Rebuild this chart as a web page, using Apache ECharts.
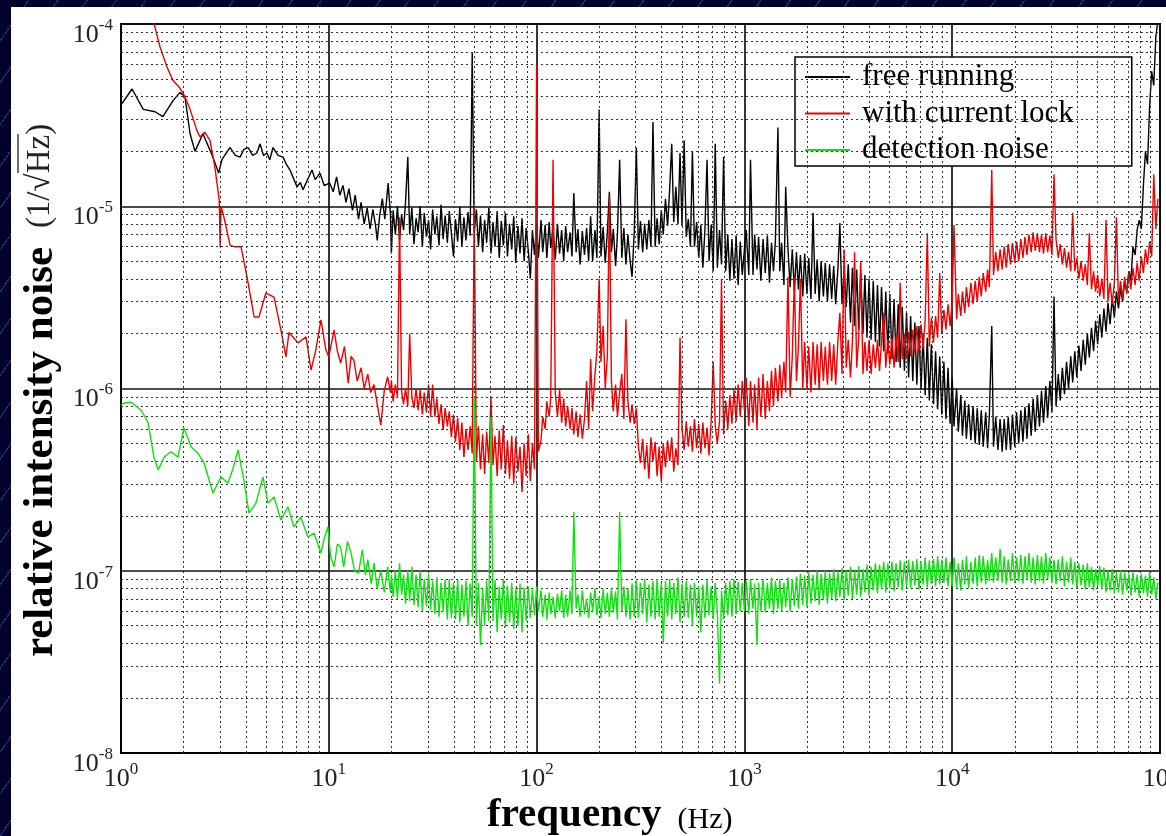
<!DOCTYPE html>
<html>
<head>
<meta charset="utf-8">
<title>Relative intensity noise</title>
<script src="https://cdn.jsdelivr.net/npm/echarts@6/dist/echarts.min.js"></script>
<style>
  html, body { margin: 0; padding: 0; width: 1166px; height: 836px; overflow: hidden; }
  body {
    background-color: #00002c;
    background-image: repeating-linear-gradient(125deg, transparent 0px, transparent 23px, rgba(70, 90, 200, 0.55) 23px, rgba(70, 90, 200, 0.55) 24px);
  }
  #panel { position: absolute; left: 11px; top: 7px; width: 1155px; height: 829px; background: #fff; }
  #chart { position: absolute; left: 0; top: 0; width: 1166px; height: 836px; }
</style>
</head>
<body>
<div id="panel"></div>
<div id="chart"></div>
<script>
// Low-frequency part of each spectrum: [frequency (Hz), RIN (1/sqrt(Hz))]
const lowFreeRunning = [
  [1.0,3.6e-5],[1.13,4.4e-5],[1.28,3.4e-5],[1.46,3.3e-5],[1.59,3.1e-5],[1.78,3.8e-5],[1.92,4.2e-5],[2.03,4.0e-5],
  [2.15,2.5e-5],[2.27,2.0e-5],[2.48,2.5e-5],[2.77,1.86e-5],[2.95,1.52e-5],[3.06,1.8e-5],[3.2,1.95e-5],[3.35,2.1e-5],
  [3.55,1.9e-5],[3.74,1.86e-5],[3.9,2.05e-5],[4.09,2.1e-5],[4.3,1.9e-5],[4.51,1.96e-5],[4.67,2.2e-5],[4.85,1.9e-5],
  [5.04,1.96e-5],[5.2,1.8e-5],[5.39,2.1e-5],[5.7,1.9e-5],[6.02,1.86e-5],[6.25,1.7e-5],[6.51,1.58e-5],[6.8,1.4e-5],
  [7.03,1.28e-5],[7.3,1.35e-5],[7.51,1.23e-5],[7.9,1.4e-5],[8.3,1.58e-5],[8.6,1.4e-5],[9.07,1.52e-5],[9.5,1.3e-5],
  [10.1,1.34e-5],[10.5,1.2e-5],[10.9,1.45e-5],[11.3,1.15e-5],[11.7,1.3e-5],[12.1,1.05e-5],[12.5,1.25e-5],[13.0,9.5e-6],
  [13.4,1.15e-5],[13.9,8.5e-6],[14.3,1.05e-5],[14.8,8e-6],[15.3,9.8e-6],[15.8,7.5e-6],[16.3,9.6e-6],[16.8,7.8e-6],
  [17.1,6.5e-6],[17.6,9e-6],[18.1,1.1e-5],[18.6,8.5e-6],[19.3,1.34e-5],[19.8,9e-6]
];
const lowCurrentLock = [
  [1.40,1.15e-4],[1.54,7.5e-5],[1.665,5.8e-5],[1.78,4.9e-5],[1.92,4.45e-5],[2.03,4.0e-5],[2.15,3.4e-5],[2.32,2.6e-5],
  [2.40,2.4e-5],[2.53,2.55e-5],[2.68,2.3e-5],[2.83,1.64e-5],[2.97,1.08e-5],[3.0,6.0e-6],[3.03,1.0e-5],[3.13,8.7e-6],
  [3.35,6.1e-6],[3.5,6.0e-6],[3.78,6.0e-6],[4.04,4.1e-6],[4.37,2.47e-6],[4.61,2.47e-6],[4.98,3.34e-6],[5.45,3.17e-6],
  [5.88,2.1e-6],[6.22,1.49e-6],[6.43,2.03e-6],[7.11,1.78e-6],[7.77,1.92e-6],[8.21,1.26e-6],[8.66,1.63e-6],[9.17,2.38e-6],
  [9.68,1.63e-6],[10.0,1.49e-6],[10.6,2.1e-6],[11.0,1.6e-6],[11.4,1.38e-6],[11.9,1.7e-6],[12.4,1.07e-6],[12.8,1.5e-6],
  [13.2,1.43e-6],[13.7,1.1e-6],[14.3,1.3e-6],[14.8,1.0e-6],[15.4,1.2e-6],[15.9,9.5e-7],[16.5,1.05e-6],[17.1,8.2e-7],
  [17.8,6.3e-7],[18.5,9.8e-7],[19.2,1.16e-6],[19.8,9.5e-7]
];
const lowDetectionNoise = [
  [1.0,8.1e-7],[1.03,8.3e-7],[1.12,8.4e-7],[1.25,7.6e-7],[1.35,6.5e-7],[1.44,4.2e-7],[1.51,3.57e-7],[1.61,4.2e-7],
  [1.74,4.5e-7],[1.88,4.2e-7],[2.01,6.1e-7],[2.17,4.8e-7],[2.35,4.4e-7],[2.51,3.9e-7],[2.77,2.67e-7],[3.03,3.27e-7],
  [3.27,3.03e-7],[3.45,3.6e-7],[3.66,4.6e-7],[3.9,3.15e-7],[4.13,2.07e-7],[4.46,2.35e-7],[4.82,3.27e-7],[5.1,2.35e-7],
  [5.45,2.54e-7],[5.88,1.9e-7],[6.36,2.24e-7],[6.79,1.74e-7],[7.33,1.97e-7],[7.93,1.53e-7],[8.49,1.61e-7],[9.17,1.25e-7],
  [9.5,1.5e-7],[9.9,1.74e-7],[10.2,1.2e-7],[10.6,1.05e-7],[11.0,1.4e-7],[11.4,1.35e-7],[11.8,1.05e-7],[12.3,1.45e-7],
  [12.8,1.25e-7],[13.3,1.0e-7],[13.9,9.7e-8],[14.5,1.3e-7],[15.0,9.5e-8],[15.4,1.15e-7],[16.0,8.5e-8],[16.5,1.1e-7],
  [17.1,8.0e-8],[17.8,1.0e-7],[18.5,7.6e-8],[19.2,1.05e-7],[19.8,7.6e-8]
];

// Frequency bins (Hz) of the dense part of the spectra, 20 Hz .. 97.7 kHz
const bandFreq = [
  20.0,20.4,20.9,21.4,21.9,22.4,22.9,23.4,24.0,24.5,25.1,25.7,26.3,26.9,27.5,28.2,28.8,29.5,30.2,30.9,
  31.6,32.4,33.1,33.9,34.7,35.5,36.3,37.2,38.0,38.9,39.8,40.7,41.7,42.7,43.7,44.7,45.7,46.8,47.9,49.0,
  50.1,51.3,52.5,53.7,55.0,56.2,57.5,58.9,60.3,61.7,63.1,64.6,66.1,67.6,69.2,70.8,72.4,74.1,75.9,77.6,
  79.4,81.3,83.2,85.1,87.1,89.1,91.2,93.3,95.5,97.7,
  100,102,105,107,110,112,115,117,120,123,126,129,132,135,138,141,145,148,151,155,
  158,162,166,170,174,178,182,186,191,195,200,204,209,214,219,224,229,234,240,245,
  251,257,263,269,275,282,288,295,302,309,316,324,331,339,347,355,363,372,380,389,
  398,407,417,427,437,447,457,468,479,490,501,513,525,537,550,562,575,589,603,617,
  631,646,661,676,692,708,724,741,759,776,794,813,832,851,871,891,912,933,955,977,
  1000,1020,1050,1070,1100,1120,1150,1170,1200,1230,1260,1290,1320,1350,1380,1410,1450,1480,1510,1550,
  1580,1620,1660,1700,1740,1780,1820,1860,1910,1950,2000,2040,2090,2140,2190,2240,2290,2340,2400,2450,
  2510,2570,2630,2690,2750,2820,2880,2950,3020,3090,3160,3240,3310,3390,3470,3550,3630,3720,3800,3890,
  3980,4070,4170,4270,4370,4470,4570,4680,4790,4900,5010,5130,5250,5370,5500,5620,5750,5890,6030,6170,
  6310,6460,6610,6760,6920,7080,7240,7410,7590,7760,7940,8130,8320,8510,8710,8910,9120,9330,9550,9770,
  10000,10200,10500,10700,11000,11200,11500,11700,12000,12300,12600,12900,13200,13500,13800,14100,14500,14800,15100,15500,
  15800,16200,16600,17000,17400,17800,18200,18600,19100,19500,20000,20400,20900,21400,21900,22400,22900,23400,24000,24500,
  25100,25700,26300,26900,27500,28200,28800,29500,30200,30900,31600,32400,33100,33900,34700,35500,36300,37200,38000,38900,
  39800,40700,41700,42700,43700,44700,45700,46800,47900,49000,50100,51300,52500,53700,55000,56200,57500,58900,60300,61700,
  63100,64600,66100,67600,69200,70800,72400,74100,75900,77600,79400,81300,83200,85100,87100,89100,91200,93300,95500,97700
];

// free running, RIN at each bandFreq bin
const bandFreeRunning = [
  5.5e-6,9.5e-6,7.0e-6,1.0e-5,6.5e-6,9.0e-6,7.4e-6,1.05e-5,1.86e-5,7.0e-6,
  9.8e-6,6.2e-6,8.6e-6,7.2e-6,1.0e-5,6.0e-6,9.2e-6,6.8e-6,8.4e-6,5.8e-6,
  9.6e-6,7.0e-6,8.8e-6,6.1e-6,1.02e-5,6.6e-6,8.9e-6,6.3e-6,9.4e-6,7.1e-6,
  5.3e-6,8.5e-6,6.4e-6,9.9e-6,6.0e-6,8.7e-6,6.5e-6,9.3e-6,6.9e-6,7.0e-5,
  7.2e-6,9.6e-6,6.0e-6,8.9e-6,5.6e-6,8.4e-6,6.3e-6,9.8e-6,5.5e-6,8.2e-6,
  6.0e-6,9.4e-6,5.2e-6,8.3e-6,6.1e-6,9.2e-6,5.3e-6,8.0e-6,5.8e-6,8.8e-6,
  4.9e-6,7.8e-6,5.5e-6,8.6e-6,5.0e-6,7.6e-6,5.7e-6,4.0e-6,7.4e-6,5.4e-6,
  8.0e-6,5.2e-6,8.4e-6,5.6e-6,7.9e-6,5.2e-6,8.2e-6,5.9e-6,7.6e-6,5.1e-6,
  8.0e-6,5.5e-6,7.4e-6,5.0e-6,7.8e-6,5.6e-6,7.2e-6,5.3e-6,1.18e-5,5.6e-6,
  7.5e-6,4.8e-6,7.3e-6,5.4e-6,7.6e-6,5.0e-6,8.8e-6,5.0e-6,7.4e-6,5.2e-6,
  3.4e-5,5.3e-6,7.7e-6,4.9e-6,7.2e-6,1.2e-5,5.6e-6,7.5e-6,4.7e-6,7.1e-6,
  1.8e-5,5.2e-6,7.6e-6,4.8e-6,7.0e-6,5.0e-6,4.1e-6,7.2e-6,2.1e-5,5.8e-6,
  8.3e-6,5.6e-6,8.0e-6,5.8e-6,8.4e-6,6.0e-6,2.9e-5,6.0e-6,8.6e-6,6.2e-6,
  9.5e-6,7.0e-6,1.1e-5,7.8e-6,1.25e-5,2.2e-5,8.2e-6,1.28e-5,8.0e-6,1.96e-5,
  7.8e-6,2.3e-5,6.8e-6,8.5e-6,6.0e-6,2.0e-5,6.0e-6,8.2e-6,5.2e-6,7.9e-6,
  4.6e-6,7.5e-6,1.8e-5,5.0e-6,7.9e-6,4.4e-6,2.2e-5,4.6e-6,7.4e-6,4.8e-6,
  1.86e-5,4.4e-6,7.0e-6,3.9e-6,6.6e-6,4.0e-6,6.9e-6,3.7e-6,6.4e-6,4.2e-6,
  5.8e-6,7.4e-6,4.2e-6,1.8e-5,4.2e-6,7.0e-6,4.5e-6,6.8e-6,3.9e-6,6.6e-6,
  4.3e-6,6.9e-6,3.8e-6,6.3e-6,4.4e-6,6.5e-6,2.7e-5,4.4e-6,6.3e-6,3.7e-6,
  1.28e-5,5.9e-6,3.6e-6,5.8e-6,3.4e-6,5.6e-6,3.5e-6,5.4e-6,3.2e-6,5.5e-6,
  3.3e-6,5.2e-6,3.1e-6,9.2e-6,3.3e-6,5.1e-6,3.0e-6,5.0e-6,3.2e-6,4.9e-6,
  3.0e-6,4.8e-6,3.1e-6,4.7e-6,2.9e-6,4.6e-6,8.1e-6,2.9e-6,4.6e-6,2.8e-6,
  4.8e-6,2.3e-6,4.6e-6,2.2e-6,4.5e-6,2.1e-6,4.3e-6,2.0e-6,4.2e-6,1.9e-6,
  4.0e-6,1.85e-6,3.9e-6,1.8e-6,3.7e-6,1.7e-6,3.6e-6,1.6e-6,3.4e-6,1.55e-6,
  3.3e-6,1.45e-6,3.1e-6,1.4e-6,2.9e-6,1.3e-6,2.8e-6,1.25e-6,2.6e-6,1.15e-6,
  2.5e-6,1.1e-6,2.3e-6,1.05e-6,2.2e-6,9.8e-7,2.0e-6,9.2e-7,1.9e-6,8.6e-7,
  1.75e-6,8.2e-7,1.6e-6,7.7e-7,1.5e-6,7.2e-7,1.4e-6,6.8e-7,1.3e-6,6.4e-7,
  1.15e-6,6.2e-7,1.0e-6,5.8e-7,9.2e-7,5.5e-7,8.6e-7,5.3e-7,8.2e-7,5.2e-7,
  8.0e-7,5.0e-7,7.8e-7,4.9e-7,7.6e-7,4.8e-7,7.4e-7,4.7e-7,7.2e-7,2.2e-6,
  4.8e-7,7.0e-7,4.6e-7,6.8e-7,4.5e-7,6.8e-7,4.6e-7,7.0e-7,4.6e-7,7.2e-7,
  4.8e-7,7.4e-7,5.0e-7,7.6e-7,5.1e-7,7.9e-7,5.3e-7,8.3e-7,5.5e-7,8.8e-7,
  5.8e-7,9.2e-7,6.2e-7,9.7e-7,6.5e-7,1.03e-6,6.9e-7,1.1e-6,7.4e-7,3.2e-6,
  8.0e-7,1.2e-6,8.6e-7,1.3e-6,9.3e-7,1.4e-6,1.0e-6,1.5e-6,1.08e-6,1.6e-6,
  1.15e-6,1.72e-6,1.25e-6,1.85e-6,1.35e-6,2.0e-6,1.48e-6,2.15e-6,1.6e-6,2.35e-6,
  1.75e-6,2.55e-6,1.9e-6,2.75e-6,2.05e-6,2.95e-6,2.25e-6,3.15e-6,2.45e-6,3.4e-6,
  2.75e-6,3.55e-6,3.0e-6,3.9e-6,3.4e-6,4.4e-6,3.9e-6,6.0e-6,5.4e-6,7.4e-6,
  8.4e-6,7.5e-6,1.3e-5,2.0e-5,1.7e-5,3.5e-5,5.5e-5,4.6e-5,8.5e-5,1.05e-4
];

// with current lock, RIN at each bandFreq bin
const bandCurrentLock = [
  1.11e-6,8.5e-7,1.05e-6,9.0e-7,8.7e-6,9.6e-7,8.2e-7,1.0e-6,8.0e-7,2.0e-6,
  9.0e-7,7.8e-7,1.0e-6,7.6e-7,9.8e-7,7.2e-7,9.5e-7,7.4e-7,1.05e-6,7.0e-7,
  1.05e-6,7.0e-7,8.8e-7,6.4e-7,8.2e-7,5.9e-7,7.8e-7,6.2e-7,7.5e-7,5.4e-7,
  7.2e-7,5.1e-7,6.9e-7,4.6e-7,6.5e-7,4.2e-7,6.0e-7,4.6e-7,6.2e-7,4.4e-7,
  1.0e-5,4.0e-7,6.2e-7,3.6e-7,5.6e-7,3.4e-7,5.8e-7,3.9e-7,9.0e-7,3.8e-7,
  5.5e-7,3.3e-7,5.9e-7,3.6e-7,6.3e-7,3.4e-7,5.2e-7,3.2e-7,5.5e-7,3.0e-7,
  5.4e-7,3.5e-7,4.8e-7,2.7e-7,5.0e-7,3.3e-7,5.6e-7,3.1e-7,5.0e-7,3.6e-7,
  6.1e-5,4.5e-7,5.2e-7,7.0e-7,6.0e-7,8.5e-7,7.0e-7,9.0e-7,1.8e-5,9.5e-7,
  7.0e-7,9.8e-7,6.5e-7,8.8e-7,6.2e-7,8.0e-7,6.0e-7,7.8e-7,5.6e-7,7.5e-7,
  5.4e-7,7.2e-7,5.3e-7,6.8e-7,1.1e-6,6.0e-7,1.45e-6,7.5e-7,1.2e-6,1.6e-6,
  4.0e-6,1.4e-6,2.2e-6,1.0e-6,1.5e-6,1.15e-5,1.1e-6,7.5e-7,1.05e-6,7.0e-7,
  9.5e-7,1.2e-6,6.8e-7,2.4e-6,8.5e-7,6.5e-7,8.2e-7,6.4e-7,7.8e-7,4.8e-7,
  3.9e-7,5.3e-7,3.6e-7,4.9e-7,3.2e-7,5.4e-7,4.0e-7,5.1e-7,3.3e-7,4.8e-7,
  3.1e-7,5.0e-7,3.7e-7,5.2e-7,4.0e-7,5.4e-7,3.5e-7,4.7e-7,3.8e-7,1.9e-6,
  6.0e-7,4.6e-7,6.6e-7,4.8e-7,6.2e-7,4.5e-7,6.8e-7,4.7e-7,6.4e-7,4.4e-7,
  6.5e-7,4.7e-7,6.1e-7,4.3e-7,6.7e-7,1.4e-6,6.2e-7,5.0e-7,6.6e-7,4.0e-6,
  5.6e-7,8.6e-7,6.0e-7,9.2e-7,6.4e-7,9.8e-7,6.6e-7,1.05e-6,7.0e-7,1.1e-6,
  7.6e-7,1.15e-6,6.2e-7,1.1e-6,6.5e-7,1.05e-6,6.0e-7,1.15e-6,7.0e-7,1.2e-6,
  6.8e-7,1.1e-6,7.5e-7,1.25e-6,8.0e-7,1.3e-6,8.5e-7,1.35e-6,9.0e-7,1.4e-6,
  9.5e-7,4.1e-6,9.0e-7,1.5e-6,4.1e-6,1.1e-6,1.7e-6,4.0e-6,1.0e-6,1.8e-6,
  1.0e-6,1.7e-6,9.5e-7,1.8e-6,1.05e-6,1.75e-6,9.8e-7,1.8e-6,1.1e-6,1.7e-6,
  1.05e-6,1.8e-6,1.1e-6,1.75e-6,1.05e-6,1.85e-6,2.6e-6,1.2e-6,5.8e-6,1.3e-6,
  1.85e-6,1.15e-6,1.8e-6,5.6e-6,1.3e-6,1.9e-6,5.0e-6,1.2e-6,1.8e-6,1.25e-6,
  1.85e-6,1.2e-6,1.75e-6,1.3e-6,1.85e-6,1.25e-6,1.8e-6,2.6e-6,1.3e-6,1.85e-6,
  1.35e-6,1.9e-6,1.3e-6,1.95e-6,1.4e-6,3.8e-6,1.45e-6,2.0e-6,1.45e-6,2.05e-6,
  1.5e-6,2.1e-6,1.55e-6,2.2e-6,1.6e-6,2.25e-6,1.65e-6,2.35e-6,7.1e-6,1.7e-6,
  2.45e-6,1.8e-6,2.5e-6,1.9e-6,4.3e-6,2.0e-6,2.7e-6,2.1e-6,2.9e-6,2.2e-6,
  3.0e-6,7.9e-6,2.4e-6,3.3e-6,2.5e-6,3.4e-6,2.6e-6,3.6e-6,2.8e-6,3.8e-6,
  2.9e-6,3.9e-6,3.0e-6,4.1e-6,3.2e-6,4.3e-6,3.4e-6,4.5e-6,3.6e-6,1.58e-5,
  4.2e-6,5.6e-6,4.4e-6,5.8e-6,4.5e-6,6.0e-6,4.6e-6,6.2e-6,4.8e-6,6.3e-6,
  4.9e-6,6.4e-6,5.0e-6,6.6e-6,5.2e-6,6.8e-6,5.4e-6,7.0e-6,5.6e-6,7.2e-6,
  5.7e-6,7.1e-6,5.6e-6,7.0e-6,5.5e-6,7.1e-6,5.6e-6,6.9e-6,5.4e-6,1.5e-5,
  6.6e-6,5.2e-6,6.2e-6,4.8e-6,5.9e-6,4.6e-6,5.6e-6,4.4e-6,9.2e-6,4.4e-6,
  5.2e-6,4.0e-6,5.0e-6,3.9e-6,4.8e-6,3.7e-6,7.1e-6,3.5e-6,4.4e-6,3.4e-6,
  4.2e-6,3.2e-6,4.0e-6,3.1e-6,8.4e-6,3.0e-6,3.8e-6,2.9e-6,3.8e-6,8.7e-6,
  3.0e-6,3.9e-6,3.1e-6,4.1e-6,3.3e-6,4.3e-6,3.5e-6,4.6e-6,3.7e-6,4.9e-6,
  3.9e-6,5.3e-6,4.3e-6,5.8e-6,4.8e-6,6.4e-6,5.3e-6,1.5e-5,7.5e-6,1.1e-5
];

// detection noise, RIN at each bandFreq bin
const bandDetectionNoise = [
  9.5e-8,7.2e-8,1.0e-7,7.0e-8,1.1e-7,7.4e-8,9.5e-8,6.6e-8,1.0e-7,6.8e-8,
  1.05e-7,6.5e-8,9.5e-8,6.3e-8,1.0e-7,6.0e-8,9.0e-8,6.4e-8,9.6e-8,6.1e-8,
  8.8e-8,5.8e-8,9.2e-8,5.6e-8,8.6e-8,6.0e-8,8.9e-8,5.4e-8,9.0e-8,5.5e-8,
  8.6e-8,5.4e-8,8.9e-8,5.2e-8,8.4e-8,5.6e-8,8.8e-8,5.0e-8,8.5e-8,5.6e-8,
  9.0e-7,5.0e-8,8.6e-8,3.9e-8,8.0e-8,5.0e-8,8.8e-8,5.3e-8,7.0e-7,5.3e-8,
  8.9e-8,4.6e-8,8.2e-8,5.4e-8,9.0e-8,4.9e-8,8.3e-8,5.2e-8,8.6e-8,4.8e-8,
  8.0e-8,5.0e-8,8.5e-8,4.6e-8,8.1e-8,5.3e-8,8.2e-8,5.5e-8,7.9e-8,5.7e-8,
  8.2e-8,6.0e-8,7.8e-8,5.6e-8,7.4e-8,5.4e-8,7.6e-8,5.8e-8,7.2e-8,5.5e-8,
  7.5e-8,6.0e-8,7.8e-8,5.5e-8,7.4e-8,5.6e-8,7.8e-8,5.8e-8,2.1e-7,6.2e-8,
  7.4e-8,5.6e-8,7.8e-8,5.8e-8,7.0e-8,5.5e-8,7.6e-8,6.0e-8,8.0e-8,5.7e-8,
  7.2e-8,5.5e-8,7.9e-8,5.8e-8,7.6e-8,5.6e-8,8.0e-8,5.9e-8,7.7e-8,5.4e-8,
  2.1e-7,6.0e-8,8.2e-8,5.6e-8,8.0e-8,5.4e-8,8.5e-8,5.6e-8,8.8e-8,5.5e-8,
  8.6e-8,5.8e-8,9.0e-8,5.2e-8,8.4e-8,5.6e-8,8.8e-8,5.4e-8,9.0e-8,5.6e-8,
  8.6e-8,4.0e-8,8.8e-8,5.6e-8,9.0e-8,5.4e-8,8.6e-8,5.8e-8,9.2e-8,5.2e-8,
  8.5e-8,5.6e-8,8.8e-8,5.5e-8,8.4e-8,5.0e-8,8.6e-8,5.6e-8,8.2e-8,4.6e-8,
  8.4e-8,5.5e-8,8.9e-8,5.7e-8,8.2e-8,5.4e-8,8.6e-8,5.8e-8,2.4e-8,7.8e-8,
  5.4e-8,8.6e-8,5.7e-8,8.8e-8,5.6e-8,9.0e-8,5.8e-8,8.7e-8,6.0e-8,8.6e-8,
  6.0e-8,8.8e-8,5.8e-8,9.0e-8,6.2e-8,8.5e-8,3.9e-8,8.6e-8,6.0e-8,9.0e-8,
  5.9e-8,8.6e-8,6.2e-8,9.2e-8,5.8e-8,8.8e-8,6.2e-8,9.0e-8,6.0e-8,8.6e-8,
  6.3e-8,9.2e-8,6.0e-8,9.0e-8,6.4e-8,9.3e-8,6.2e-8,9.6e-8,6.5e-8,9.4e-8,
  6.3e-8,9.8e-8,6.6e-8,9.5e-8,6.8e-8,1.0e-7,6.5e-8,9.6e-8,6.9e-8,1.0e-7,
  6.6e-8,9.7e-8,7.0e-8,1.02e-7,6.8e-8,9.8e-8,7.2e-8,1.03e-7,6.9e-8,1.0e-7,
  7.3e-8,1.05e-7,7.0e-8,1.0e-7,7.4e-8,1.06e-7,7.2e-8,1.02e-7,7.6e-8,1.08e-7,
  7.3e-8,1.05e-7,7.8e-8,1.1e-7,7.5e-8,1.08e-7,7.9e-8,1.12e-7,7.6e-8,1.1e-7,
  8.0e-8,1.12e-7,7.7e-8,1.1e-7,8.1e-8,1.14e-7,7.8e-8,1.12e-7,8.2e-8,1.15e-7,
  8.0e-8,1.13e-7,8.3e-8,1.16e-7,7.9e-8,1.12e-7,8.4e-8,1.18e-7,8.1e-8,1.14e-7,
  8.5e-8,1.16e-7,8.2e-8,1.2e-7,8.4e-8,1.15e-7,8.6e-8,1.18e-7,8.2e-8,1.12e-7,
  8.2e-8,1.18e-7,8.0e-8,1.1e-7,7.8e-8,1.15e-7,8.4e-8,1.2e-7,8.0e-8,1.12e-7,
  8.5e-8,1.18e-7,8.2e-8,1.22e-7,8.6e-8,1.2e-7,8.4e-8,1.15e-7,8.8e-8,1.25e-7,
  8.6e-8,1.18e-7,8.8e-8,1.32e-7,8.6e-8,1.2e-7,8.4e-8,1.15e-7,8.8e-8,1.25e-7,
  8.6e-8,1.18e-7,8.8e-8,1.22e-7,8.5e-8,1.2e-7,9.0e-8,1.25e-7,8.6e-8,1.18e-7,
  8.4e-8,1.22e-7,8.8e-8,1.2e-7,8.5e-8,1.25e-7,9.0e-8,1.18e-7,8.6e-8,1.15e-7,
  8.4e-8,1.15e-7,8.8e-8,1.2e-7,8.2e-8,1.12e-7,8.6e-8,1.18e-7,8.4e-8,1.12e-7,
  8.0e-8,1.1e-7,8.3e-8,1.08e-7,7.9e-8,1.1e-7,8.1e-8,1.05e-7,7.8e-8,1.02e-7,
  8.2e-8,1.06e-7,7.9e-8,1.04e-7,7.6e-8,1.0e-7,7.8e-8,1.02e-7,7.5e-8,9.8e-8,
  7.6e-8,1.0e-7,7.4e-8,9.8e-8,7.8e-8,9.6e-8,7.3e-8,9.8e-8,7.6e-8,9.5e-8,
  7.2e-8,9.6e-8,7.5e-8,9.4e-8,7.2e-8,9.8e-8,7.4e-8,9.2e-8,7.0e-8,8.6e-8
];

// Axis ranges and log grid subdivisions
const freqRange = [1, 1e5];
const rinRange = [1e-8, 1e-4];
const freqDecades = [1, 10, 100, 1000, 10000];
const rinDecades = [1e-8, 1e-7, 1e-6, 1e-5];
const minorSteps = [2, 3, 4, 5, 6, 7, 8, 9];

const seriesNames = ['free running', 'with current lock', 'detection noise'];
const seriesColors = ['#000000', '#f00000', '#10e010'];

const serif = "'Liberation Serif', 'Times New Roman', serif";

// join the sparse low-frequency points with the binned part
function spectrum(low, bandValues) {
  return low.concat(bandFreq.map((f, i) => [f, bandValues[i]]));
}
const spectra = [
  spectrum(lowFreeRunning, bandFreeRunning),
  spectrum(lowCurrentLock, bandCurrentLock),
  spectrum(lowDetectionNoise, bandDetectionNoise)
];

// dotted minor grid at 2..9 of each decade, on both axes
const minorGrid = [];
freqDecades.forEach(d => minorSteps.forEach(m => {
  minorGrid.push([{ coord: [m * d, rinRange[0]] }, { coord: [m * d, rinRange[1]] }]);
}));
rinDecades.forEach(d => minorSteps.forEach(m => {
  minorGrid.push([{ coord: [freqRange[0], m * d] }, { coord: [freqRange[1], m * d] }]);
}));

function powerLabel(v) {
  const e = Math.round(Math.log10(v));
  return '{b|10}{s|' + e + '}';
}
const powerRich = {
  b: { fontFamily: serif, fontSize: 26, color: '#222', lineHeight: 26, verticalAlign: 'bottom' },
  s: { fontFamily: serif, fontSize: 17, color: '#222', lineHeight: 17, verticalAlign: 'bottom', padding: [0, 0, 14, 0] }
};

const chart = echarts.init(document.getElementById('chart'), null, { renderer: 'canvas' });

const lineSeries = spectra.map((d, i) => ({
  name: seriesNames[i],
  type: 'line',
  data: d,
  symbol: 'none',
  showSymbol: false,
  clip: true,
  sampling: null,
  z: 3 + i,
  lineStyle: { color: seriesColors[i], width: 1.4 },
  itemStyle: { color: seriesColors[i] },
  emphasis: { disabled: true }
}));

chart.setOption({
  animation: false,
  grid: {
    left: 121, top: 24, right: 6, bottom: 83,
    containLabel: false, outerBoundsMode: 'none',
    show: true, backgroundColor: '#ffffff', borderColor: '#000', borderWidth: 2
  },
  xAxis: {
    type: 'log', logBase: 10, min: freqRange[0], max: freqRange[1],
    axisLine: { show: true, onZero: false, lineStyle: { color: '#000', width: 2 } },
    axisTick: { show: false },
    splitLine: { show: true, lineStyle: { color: '#111', width: 1.7 } },
    axisLabel: { formatter: powerLabel, rich: powerRich, margin: 13, hideOverlap: false }
  },
  yAxis: {
    type: 'log', logBase: 10, min: rinRange[0], max: rinRange[1],
    axisLine: { show: true, lineStyle: { color: '#000', width: 2 } },
    axisTick: { show: false },
    splitLine: { show: true, lineStyle: { color: '#111', width: 1.7 } },
    axisLabel: { formatter: powerLabel, rich: powerRich, margin: 8, padding: [22, 0, 0, 0] }
  },
  legend: {
    data: seriesNames,
    orient: 'vertical',
    left: 795, top: 57,
    padding: [4, 58, 0, 10],
    itemGap: 4.5,
    itemWidth: 45, itemHeight: 2,
    icon: 'rect',
    backgroundColor: '#fff',
    borderColor: '#000', borderWidth: 1.5, borderRadius: 0,
    selectedMode: false,
    textStyle: { fontFamily: serif, fontSize: 31, lineHeight: 32, color: '#000', padding: [0, 0, 0, 7] }
  },
  graphic: [
    {
      type: 'text', x: 41, y: 452, rotation: Math.PI / 2, z: 10,
      style: { text: 'relative intensity noise', font: 'bold 43px ' + serif, fill: '#000', align: 'center', verticalAlign: 'middle' }
    },
    {
      type: 'text', x: 40, y: 176, rotation: Math.PI / 2, z: 10,
      style: { text: '(1/\u221AHz)', font: '33px ' + serif, fill: '#222', align: 'center', verticalAlign: 'middle' }
    },
    {
      type: 'line', z: 10,
      shape: { x1: 18, y1: 134, x2: 18, y2: 173 },
      style: { stroke: '#222', lineWidth: 1.3 }
    },
    {
      type: 'text', x: 487, y: 815, z: 10,
      style: { text: '{b|frequency}{r|(Hz)}', align: 'left', verticalAlign: 'middle',
        rich: {
          b: { fontFamily: serif, fontWeight: 'bold', fontSize: 41, color: '#000', verticalAlign: 'bottom', lineHeight: 41 },
          r: { fontFamily: serif, fontSize: 30, color: '#222', verticalAlign: 'bottom', lineHeight: 41, padding: [0, 0, 0, 16] }
        }
      }
    }
  ],
  series: [
    {
      name: 'minor grid', type: 'line', data: [], z: 1, silent: true,
      markLine: {
        silent: true, symbol: 'none', animation: false, precision: 15,
        label: { show: false },
        emphasis: { disabled: true },
        lineStyle: { color: '#333', width: 1, type: [2, 3] },
        data: minorGrid
      }
    }
  ].concat(lineSeries)
});
</script>
</body>
</html>
